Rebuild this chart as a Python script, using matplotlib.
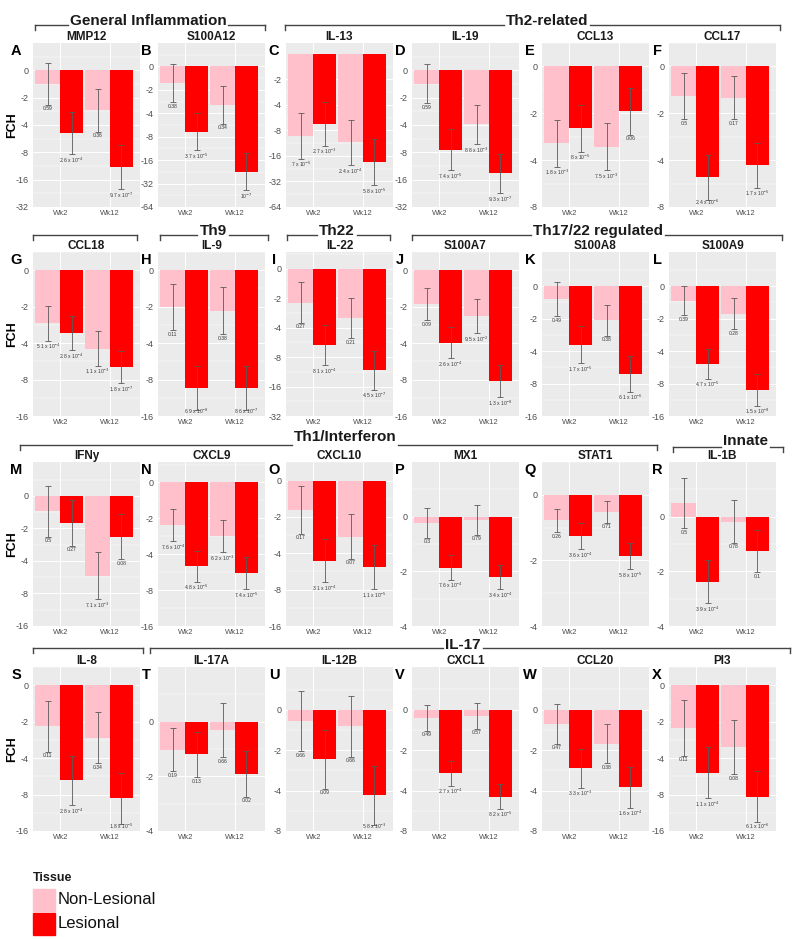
import numpy as np
import matplotlib
matplotlib.use("Agg")
import matplotlib.pyplot as plt
from matplotlib.lines import Line2D
from matplotlib.patches import Rectangle

plt.rcParams['font.family'] = ['Liberation Sans', 'DejaVu Sans']

W, H = 800, 939

genes = ['MMP12', 'S100A12', 'IL-13', 'IL-19', 'CCL13', 'CCL17',
         'CCL18', 'IL-9', 'IL-22', 'S100A7', 'S100A8', 'S100A9',
         'IFNy', 'CXCL9', 'CXCL10', 'MX1', 'STAT1', 'IL-1B',
         'IL-8', 'IL-17A', 'IL-12B', 'CXCL1', 'CCL20', 'PI3']
letters = list('ABCDEFGHIJKLMNOPQRSTUVWX')
weeks = ['Wk2', 'Wk12']

# log2 fold change (axis is labelled as signed fold change)
nl_wk2 = [-0.49, -0.71, -3.20, -0.49, -1.64, -0.63,
          -1.45, -1.02, -1.15, -0.93, -0.40, -0.45,
          -0.47, -1.18, -0.80, -0.12, -0.39, 0.25,
          -1.13, -0.51, -0.28, -0.20, -0.35, -1.17]
les_wk2 = [-2.29, -2.79, -2.75, -2.90, -1.32, -2.36,
           -1.73, -3.24, -2.59, -1.99, -1.80, -2.40,
           -0.83, -2.33, -2.20, -0.93, -0.63, -1.19,
           -2.61, -0.60, -1.22, -1.58, -1.45, -2.40]
nl_wk12 = [-1.46, -1.64, -3.47, -1.98, -1.71, -0.67,
           -2.15, -1.11, -1.67, -1.25, -1.05, -0.85,
           -2.45, -1.50, -1.54, -0.06, -0.26, -0.09,
           -1.44, -0.15, -0.41, -0.16, -0.84, -1.70]
les_wk12 = [-3.54, -4.50, -4.25, -3.77, -0.96, -2.11,
            -2.66, -3.24, -3.45, -3.04, -2.70, -3.20,
            -1.25, -2.52, -2.38, -1.11, -0.93, -0.63,
            -3.10, -0.95, -2.11, -2.15, -1.92, -3.06]

# error bar half widths (log2 units)
nl_wk2_err = [0.76, 0.82, 0.90, 0.71, 0.50, 0.50,
              0.48, 0.63, 0.69, 0.44, 0.53, 0.45,
              0.78, 0.45, 0.66, 0.27, 0.18, 0.46,
              0.70, 0.40, 0.75, 0.32, 0.49, 0.76]
les_wk2_err = [0.77, 0.79, 0.85, 0.74, 0.50, 0.48,
               0.47, 0.60, 0.69, 0.42, 0.58, 0.45,
               0.70, 0.43, 0.59, 0.22, 0.20, 0.39,
               0.68, 0.42, 0.73, 0.30, 0.48, 0.70]
nl_wk12_err = [0.79, 0.80, 0.88, 0.71, 0.50, 0.46,
               0.47, 0.65, 0.69, 0.47, 0.48, 0.48,
               0.72, 0.45, 0.61, 0.27, 0.17, 0.39,
               0.70, 0.50, 0.75, 0.32, 0.49, 0.74]
les_wk12_err = [0.80, 0.79, 0.90, 0.72, 0.50, 0.48,
                0.44, 0.60, 0.66, 0.44, 0.55, 0.48,
                0.70, 0.45, 0.60, 0.22, 0.20, 0.39,
                0.70, 0.42, 0.73, 0.30, 0.50, 0.70]

# p-values printed under each bar
p_nl_wk2 = ['0.59', '0.38', '7e-5', '0.59', '1.8e-3', '0.5',
            '5.1e-4', '0.11', '0.27', '0.09', '0.49', '0.39',
            '0.5', '7.6e-4', '0.17', '0.3', '0.26', '0.5',
            '0.11', '0.19', '0.66', '0.49', '0.47', '0.11']
p_les_wk2 = ['2.6e-4', '3.7e-5', '2.7e-3', '7.4e-5', '8e-5', '2.4e-6',
             '2.8e-4', '6.9e-8', '8.1e-4', '2.6e-4', '1.7e-5', '4.7e-5',
             '0.27', '4.8e-5', '3.1e-4', '7.6e-4', '3.6e-4', '3.9e-4',
             '2.8e-4', '0.13', '0.09', '2.7e-4', '3.3e-3', '1.1e-4']
p_nl_wk12 = ['0.36', '0.34', '2.4e-4', '8.8e-3', '7.5e-3', '0.17',
             '1.1e-3', '0.38', '0.21', '9.5e-2', '0.38', '0.28',
             '7.1e-3', '6.2e-3', '0.07', '0.79', '0.71', '0.78',
             '0.34', '0.66', '0.66', '0.57', '0.38', '0.08']
p_les_wk12 = ['9.7e-7', '1e-7', '5.8e-5', '9.3e-7', '0.06', '1.7e-5',
              '1.8e-7', '8.6e-7', '4.5e-7', '1.3e-8', '6.1e-6', '1.5e-8',
              '0.08', '7.4e-5', '1.1e-5', '3.4e-4', '5.8e-5', '0.1',
              '1.8e-5', '0.02', '5.8e-3', '8.2e-5', '1.6e-4', '6.1e-6']

# axis ranges (log2 units) per panel
ytop = [1, 1, 0.43, 1, 0.5, 0.46,
        0.5, 0.5, 0.57, 0.5, 1.05, 1.05,
        1.04, 0.57, 0.51, 1, 0.5, 1,
        0.5, 1, 1.06, 1.05, 1.05, 0.5]
ybot = [-5, -6, -6, -5, -3, -3,
        -4, -4, -5, -4, -4, -4,
        -4, -4, -4, -2, -2, -2,
        -4, -2, -3, -3, -3, -4]
tick_start = [0, 0, -1, 0, 0, 0] + [0] * 18

PINK = '#FFC0CB'
RED = '#FF0000'
BG = '#EBEBEB'
ERR = '#5a5a5a'

col_left = [33, 158, 286, 412, 542, 669]
row_top = [43, 252, 462, 667]
pw, ph = 107, 164


def fch_label(k):
    if k == 0:
        return '0'
    return '-' + str(int(2 ** (-k)))


def fmt_p(s):
    if 'e' in s:
        m, e = s.split('e')
        if m == '1':
            return '10$^{%s}$' % e
        return m + ' x 10$^{%s}$' % e
    return s


fig = plt.figure(figsize=(W / 100, H / 100), dpi=100)
renderer = fig.canvas.get_renderer()

for i in range(24):
    r, c = divmod(i, 6)
    left, top = col_left[c], row_top[r]
    ax = fig.add_axes([left / W, 1 - (top + ph) / H, pw / W, ph / H])
    ax.set_facecolor(BG)
    ax.set_xlim(0.45, 2.6)
    ax.set_ylim(ybot[i], ytop[i])
    ticks = np.arange(tick_start[i], ybot[i] - 1, -1)
    ax.set_yticks(ticks)
    ax.set_yticklabels([fch_label(k) for k in ticks])
    ax.set_yticks(np.arange(tick_start[i] + 0.5, ybot[i], -1), minor=True)
    ax.set_xticks([1, 2])
    ax.set_xticklabels(weeks)
    ax.grid(which='major', color='white', lw=0.7)
    ax.grid(which='minor', axis='y', color='white', lw=0.35)
    ax.set_axisbelow(True)
    for sp in ax.spines.values():
        sp.set_visible(False)
    ax.tick_params(axis='y', which='both', length=0, labelsize=6.5,
                   labelcolor='#4D4D4D', pad=3)
    ax.tick_params(axis='x', length=0, labelsize=5.5, labelcolor='#4D4D4D', pad=2)

    x_nl = np.array([1, 2]) - 0.25
    x_l = np.array([1, 2]) + 0.225
    nl = [nl_wk2[i], nl_wk12[i]]
    les = [les_wk2[i], les_wk12[i]]
    nl_e = [nl_wk2_err[i], nl_wk12_err[i]]
    les_e = [les_wk2_err[i], les_wk12_err[i]]
    ax.bar(x_nl, nl, width=0.5, color=PINK, zorder=2)
    ax.bar(x_l, les, width=0.45, color=RED, zorder=2)
    ax.errorbar(x_nl, nl, yerr=nl_e, fmt='none', ecolor=ERR, elinewidth=0.6,
                capsize=2.2, capthick=0.6, zorder=3)
    ax.errorbar(x_l, les, yerr=les_e, fmt='none', ecolor=ERR, elinewidth=0.6,
                capsize=2.2, capthick=0.6, zorder=3)
    pv = [(x_nl[0], nl[0] - nl_e[0], p_nl_wk2[i]), (x_l[0], les[0] - les_e[0], p_les_wk2[i]),
          (x_nl[1], nl[1] - nl_e[1], p_nl_wk12[i]), (x_l[1], les[1] - les_e[1], p_les_wk12[i])]
    # keep the p-value labels inside the panel
    floor = ybot[i] + 0.065 * (ytop[i] - ybot[i])
    for x, y, s in pv:
        ax.annotate(fmt_p(s), (x, max(y, floor)), xytext=(0, -1), textcoords='offset points',
                    ha='center', va='top', fontsize=3.6, color='#3a3a3a', zorder=4)

    fig.text((left + pw / 2) / W, 1 - (top - 6) / H, genes[i], ha='center', va='center',
             fontsize=8.5, fontweight='bold', color='#1a1a1a')
    lx = 16 if c == 0 else left - 12
    fig.text(lx / W, 1 - (top + 8) / H, letters[i], ha='center', va='center',
             fontsize=10.5, fontweight='bold', color='black')
    if c == 0:
        fig.text(12 / W, 1 - (top + 82) / H, 'FCH', rotation=90, ha='center', va='center',
                 fontsize=9, fontweight='bold', color='black')


def hline(x0, x1, y):
    fig.add_artist(Line2D([x0 / W, x1 / W], [1 - y / H, 1 - y / H], transform=fig.transFigure,
                          color='#444444', lw=1))


def vtick(x, y):
    fig.add_artist(Line2D([x / W, x / W], [1 - y / H, 1 - (y + 5) / H], transform=fig.transFigure,
                          color='#444444', lw=1))


def bracket(x0, x1, y, label=None, tx=None, ty=None):
    if label:
        t = fig.text(tx / W, 1 - ty / H, label, ha='center', va='center', fontsize=11,
                     fontweight='bold', color='#1a1a1a')
        bb = t.get_window_extent(renderer)
        hline(x0, bb.x0 - 2, y)
        hline(bb.x1 + 2, x1, y)
    else:
        hline(x0, x1, y)
    vtick(x0, y)
    vtick(x1, y)


bracket(35, 265, 25, 'General Inflammation', 148, 21)
bracket(285, 780, 25, 'Th2-related', 547, 21)
bracket(33, 137, 235)
bracket(160, 268, 235, 'Th9', 213, 231)
bracket(287, 390, 235, 'Th22', 337, 231)
bracket(412, 782, 235, 'Th17/22 regulated', 598, 231)
bracket(20, 657, 445, 'Th1/Interferon', 345, 437)
bracket(673, 783, 447, 'Innate', 745, 441)
bracket(33, 143, 648)
bracket(150, 790, 648, 'IL-17', 463, 645)

# legend
fig.text(33 / W, 1 - 878 / H, 'Tissue', ha='left', va='center', fontsize=9,
         fontweight='bold', color='#1a1a1a')
fig.add_artist(Rectangle((33 / W, 1 - 911 / H), 22 / W, 22 / H, transform=fig.transFigure,
                         color=PINK))
fig.add_artist(Rectangle((33 / W, 1 - 935 / H), 22 / W, 22 / H, transform=fig.transFigure,
                         color=RED))
fig.text(58 / W, 1 - 900 / H, 'Non-Lesional', ha='left', va='center', fontsize=12,
         color='#111111')
fig.text(58 / W, 1 - 924 / H, 'Lesional', ha='left', va='center', fontsize=12,
         color='#111111')

fig.savefig('out.png', dpi=100)
